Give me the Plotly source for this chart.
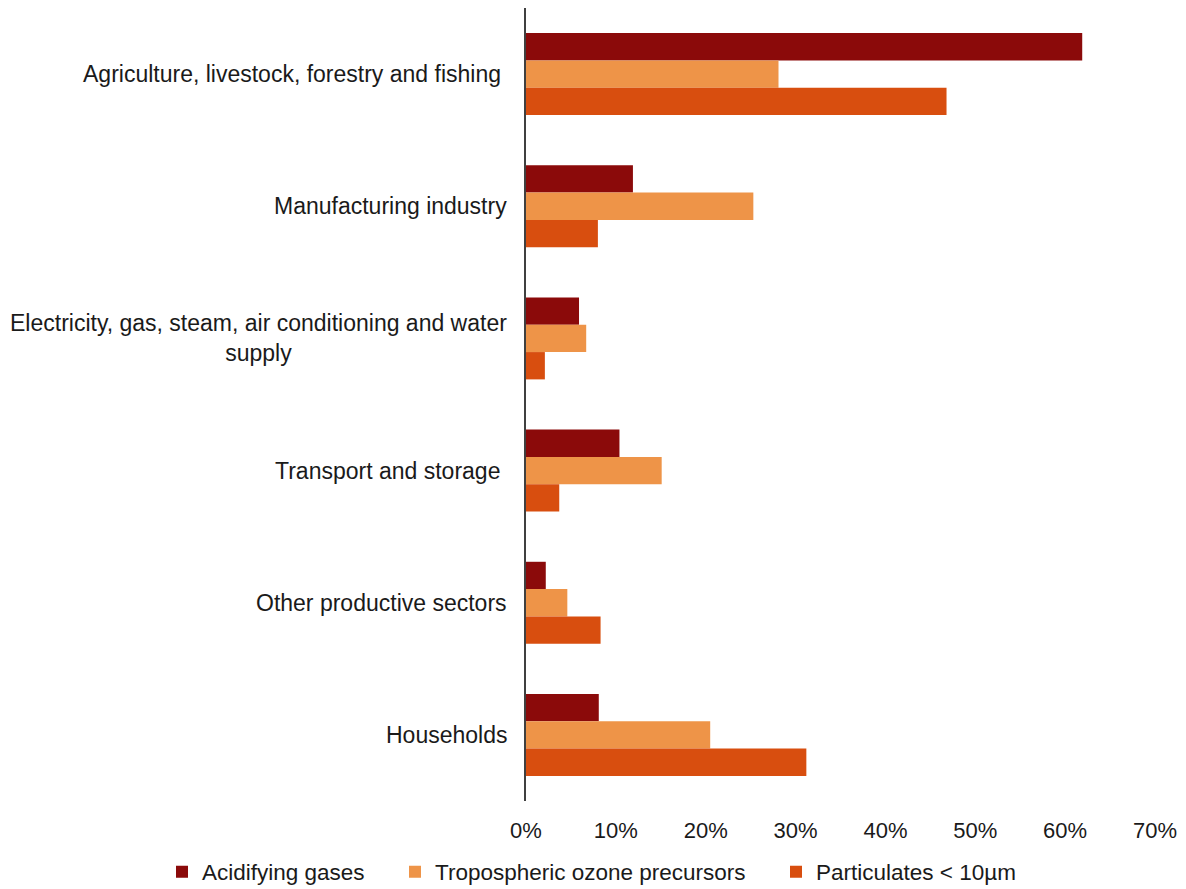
import plotly.graph_objects as go

categories = [
    "Agriculture, livestock, forestry and fishing\u00a0",
    "Manufacturing industry",
    "Electricity, gas, steam, air conditioning and water<br>supply",
    "Transport and storage\u00a0",
    "Other productive sectors",
    "Households",
]
series_names = ["Acidifying gases", "Tropospheric ozone precursors", "Particulates < 10µm"]
acidifying = [61.9, 11.9, 5.9, 10.4, 2.2, 8.1]
ozone = [28.1, 25.3, 6.7, 15.1, 4.6, 20.5]
particulates = [46.8, 8.0, 2.1, 3.7, 8.3, 31.2]
tick_vals = [0, 10, 20, 30, 40, 50, 60, 70]
tick_text = ["0%", "10%", "20%", "30%", "40%", "50%", "60%", "70%"]

colors = ["#8B0A0A", "#EE9448", "#D84E0F"]
FONT = "Liberation Sans, Arial, sans-serif"
TXT = "#1a1a1a"

fig = go.Figure()
legends = ["legend", "legend2", "legend3"]
for name, vals, col, lg in zip(series_names, [acidifying, ozone, particulates], colors, legends):
    fig.add_trace(go.Bar(
        y=list(range(len(categories))), x=vals, name=name, orientation="h",
        marker=dict(color=col, line=dict(width=0)), legend=lg,
    ))

for i, c in enumerate(categories):
    fig.add_annotation(
        x=0, xref="paper", y=i, yref="y", text=c, showarrow=False,
        xanchor="right", yanchor="middle", align="center", xshift=-17,
        font=dict(family=FONT, size=23, color=TXT),
    )

leg_common = dict(orientation="h", xref="container", yref="container",
                  yanchor="middle", xanchor="left", bgcolor="rgba(0,0,0,0)",
                  font=dict(family=FONT, size=22.5, color=TXT), itemwidth=30)
ly = 1 - 872 / 889
fig.update_layout(
    legend=dict(x=162 / 1186, y=ly, **leg_common),
    legend2=dict(x=395 / 1186, y=ly, **leg_common),
    legend3=dict(x=776 / 1186, y=ly, **leg_common),
)

fig.update_layout(
    width=1186, height=889,
    margin=dict(l=526, r=31, t=8, b=88),
    paper_bgcolor="white", plot_bgcolor="white",
    barmode="group", bargap=0.38, bargroupgap=0,
    font=dict(family=FONT, size=22, color=TXT),
    showlegend=True,
    xaxis=dict(range=[0, 70], tickvals=tick_vals, ticktext=tick_text,
               showgrid=False, zeroline=False, showline=False, ticks="",
               ticklabelstandoff=14,
               tickfont=dict(family=FONT, size=22, color=TXT), fixedrange=True),
    yaxis=dict(range=[len(categories) - 0.5, -0.5], showticklabels=False,
               showgrid=False, zeroline=False, showline=True,
               linecolor="#404040", linewidth=1.5, ticks="", fixedrange=True),
)

fig.write_html("out.html")
